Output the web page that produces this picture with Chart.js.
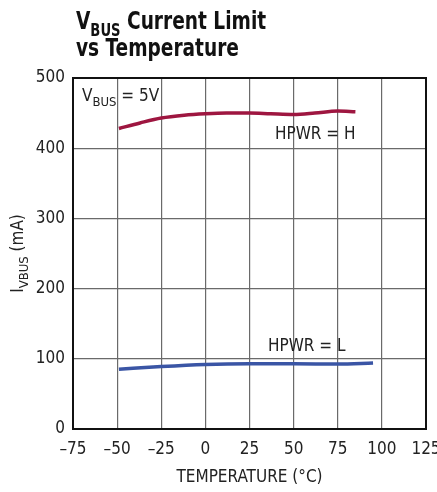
<!DOCTYPE html>
<html><head><meta charset="utf-8">
<script src="https://cdn.jsdelivr.net/npm/chart.js@4"></script>
<style>html,body{margin:0;padding:0;background:#fff}#wrap{width:437px;height:492px;position:relative}</style>
</head><body><div id="wrap"><canvas id="c" width="437" height="492"></canvas></div>
<script>
const xTicks = [-75, -50, -25, 0, 25, 50, 75, 100, 125];
const yTicks = [0, 100, 200, 300, 400, 500];
const tempH = [-49, -37, -25, -12, 0, 12, 25, 37, 50, 62, 75, 85];
const hpwrH = [428, 436, 443, 447, 449, 450, 450, 449, 448, 450, 453, 452];
const tempL = [-49, -25, 0, 25, 50, 75, 95];
const hpwrL = [85, 89, 92, 93, 93, 92.5, 94];

const FONT = "'Liberation Sans Narrow', 'DejaVu Sans Condensed', Arial, sans-serif";

function sub(ctx, x, y, main, subs, rest, size, subSize, bold) {
  const w = bold ? 'bold ' : '';
  ctx.font = w + size + 'px ' + FONT;
  ctx.fillText(main, x, y);
  x += ctx.measureText(main).width;
  ctx.font = w + subSize + 'px ' + FONT;
  ctx.fillText(subs, x, y + size * 0.28);
  x += ctx.measureText(subs).width;
  ctx.font = w + size + 'px ' + FONT;
  ctx.fillText(rest, x, y);
}

const textPlugin = {
  id: 'texts',
  afterDraw(chart) {
    const ctx = chart.ctx;
    const xs = chart.scales.x, ys = chart.scales.y;
    ctx.save();
    ctx.fillStyle = '#111';
    ctx.textBaseline = 'alphabetic';
    ctx.textAlign = 'left';
    // Title (horizontally condensed)
    ctx.save();
    ctx.translate(76, 0);
    ctx.scale(0.86, 1);
    sub(ctx, 0, 29, 'V', 'BUS', ' Current Limit', 24, 17, true);
    ctx.font = 'bold 24px ' + FONT;
    ctx.fillText('vs Temperature', 0, 56);
    ctx.restore();
    // In-plot labels
    ctx.fillStyle = '#222';
    sub(ctx, 82, 101, 'V', 'BUS', ' = 5V', 17, 13, false);
    ctx.font = '17px ' + FONT;
    ctx.fillText('HPWR = H', 275, 139);
    ctx.fillText('HPWR = L', 268, 351);
    // X axis title
    ctx.textAlign = 'center';
    ctx.fillText('TEMPERATURE (\u00B0C)', (xs.left + xs.right) / 2, 482);
    // Y axis title rotated
    ctx.translate(23, (ys.top + ys.bottom) / 2);
    ctx.rotate(-Math.PI / 2);
    ctx.font = '17px ' + FONT;
    const a = 'I', b = 'VBUS', c = ' (mA)';
    const wa = ctx.measureText(a).width, wc = ctx.measureText(c).width;
    ctx.font = '13px ' + FONT;
    const wb = ctx.measureText(b).width;
    ctx.textAlign = 'left';
    sub(ctx, -(wa + wb + wc) / 2, 0, a, b, c, 17, 13, false);
    ctx.restore();
  }
};

new Chart(document.getElementById('c'), {
  type: 'scatter',
  data: {
    datasets: [
      { data: tempH.map((t, i) => ({ x: t, y: hpwrH[i] })), showLine: true, borderColor: '#9E1640', borderWidth: 3.5, pointRadius: 0, tension: 0.4, cubicInterpolationMode: 'monotone' },
      { data: tempL.map((t, i) => ({ x: t, y: hpwrL[i] })), showLine: true, borderColor: '#3A55A5', borderWidth: 3.5, pointRadius: 0, tension: 0.4, cubicInterpolationMode: 'monotone' }
    ]
  },
  options: {
    responsive: false,
    animation: false,
    layout: { padding: { top: 78, right: 11, left: 0, bottom: 0 } },
    plugins: { legend: { display: false }, tooltip: { enabled: false }, title: { display: false } },
    scales: {
      x: {
        type: 'linear', min: -75, max: 125,
        afterBuildTicks: s => { s.ticks = xTicks.map(v => ({ value: v })); },
        afterFit: s => { s.height = 63; s.paddingLeft = 0; s.paddingRight = 0; },
        ticks: { color: '#222', font: { family: FONT, size: 17 }, padding: 10, maxRotation: 0, autoSkip: false,
                 callback: v => (v < 0 ? '\u2013' + Math.abs(v) : String(v)) },
        grid: { color: '#6a6a6a', lineWidth: 1.2, drawTicks: false },
        border: { color: '#111', width: 2 }
      },
      y: {
        type: 'linear', min: 0, max: 500,
        afterBuildTicks: s => { s.ticks = yTicks.map(v => ({ value: v })); },
        afterFit: s => { s.width = 73; s.paddingTop = 0; s.paddingBottom = 0; },
        ticks: { color: '#222', font: { family: FONT, size: 17 }, padding: 8, autoSkip: false },
        grid: { color: '#6a6a6a', lineWidth: 1.2, drawTicks: false },
        border: { color: '#111', width: 2 }
      }
    }
  },
  plugins: [textPlugin, {
    id: 'frame',
    afterDatasetsDraw(chart) {
      const { ctx, chartArea: a } = chart;
      ctx.save();
      ctx.strokeStyle = '#111';
      ctx.lineWidth = 2;
      ctx.strokeRect(a.left, a.top, a.right - a.left, a.bottom - a.top);
      ctx.restore();
    }
  }]
});
</script></body></html>
